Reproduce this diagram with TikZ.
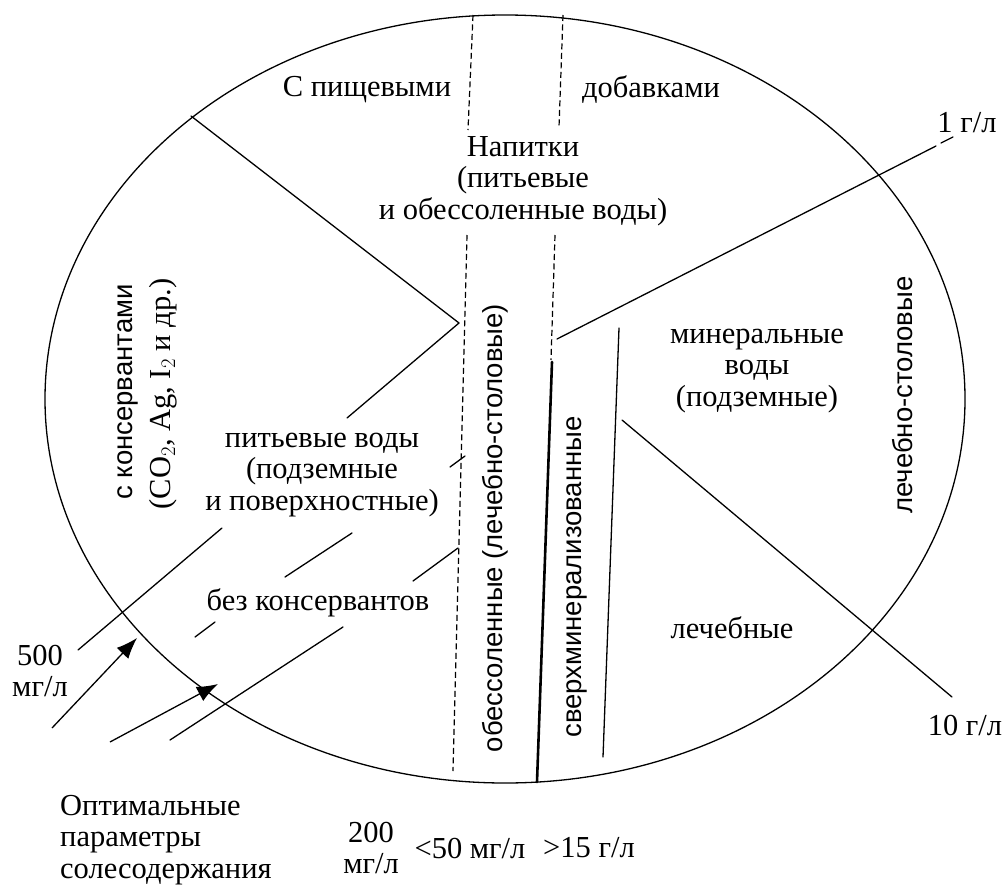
\documentclass[tikz,border=0pt]{standalone}
\usepackage{fontspec}
\setmainfont{Liberation Serif}
\newfontfamily\sansf{Liberation Sans}
\usetikzlibrary{arrows.meta}
\tikzset{
  ln/.style={line width=1.3pt, line cap=round},
  dsh/.style={line width=1.2pt, dash pattern=on 6pt off 3.5pt},
  thick line/.style={line width=2.6pt, line cap=round},
  arr/.style={line width=1.3pt, -{Latex[length=21pt,width=16pt]}},
  lbl/.style={font=\fontsize{30.5}{31.5}\selectfont, inner sep=0pt, align=center},
  slbl/.style={font=\sansf\fontsize{27.5}{30}\selectfont, inner sep=0pt, rotate=90},
}
\begin{document}
\begin{tikzpicture}[x=1pt,y=-1pt]
\useasboundingbox (0,0) rectangle (1006,886);
% ellipse
\draw[ln] (505,399) ellipse [x radius=460, y radius=384];
% coordinates
\coordinate (apex) at (459,323);
\coordinate (ul) at (191,116);
\coordinate (a1) at (78,650); \coordinate (a2) at (222,528); \coordinate (a3) at (347,418);
\coordinate (b1) at (195,637); \coordinate (b2) at (215,622); \coordinate (b3) at (285,577); \coordinate (b4) at (352,533); \coordinate (b5) at (450,467); \coordinate (b6) at (465,456);
\coordinate (c1) at (170,740); \coordinate (c2) at (343,627); \coordinate (c3) at (413,581); \coordinate (c4) at (458,548);
\coordinate (ar1s) at (52,728); \coordinate (ar1e) at (137,638);
\coordinate (ar2s) at (110,742); \coordinate (ar2e) at (218,684);
\coordinate (d1t) at (473,15); \coordinate (d1b) at (468,130);
\coordinate (d2t) at (563,15); \coordinate (d2b) at (559,127);
\coordinate (d3t) at (467,235); \coordinate (d3b) at (453,771);
\coordinate (d4t) at (555,235); \coordinate (d4b) at (551,360);
\coordinate (t1) at (552,362); \coordinate (t2) at (537,782);
\coordinate (s1) at (619,328); \coordinate (s2) at (603,757);
\coordinate (g1a) at (557,339); \coordinate (g1b) at (936,146); \coordinate (g1c) at (941,143); \coordinate (g1d) at (953,137);
\coordinate (g10a) at (622,420); \coordinate (g10b) at (952,697);
% lines
\draw[ln] (ul) -- (apex);
\draw[ln] (a1) -- (a2) (a3) -- (apex);
\draw[ln] (b1) -- (b2) (b3) -- (b4) (b5) -- (b6);
\draw[ln] (c1) -- (c2) (c3) -- (c4);
\draw[arr] (ar1s) -- (ar1e);
\draw[arr] (ar2s) -- (ar2e);
\draw[dsh] (d1t) -- (d1b);
\draw[dsh] (d2t) -- (d2b);
\draw[dsh] (d3t) -- (d3b);
\draw[dsh] (d4t) -- (d4b);
\draw[thick line] (t1) -- (t2);
\draw[ln] (s1) -- (s2);
\draw[ln] (g1a) -- (g1b) (g1c) -- (g1d);
\draw[ln] (g10a) -- (g10b);
% labels
\node[lbl] (n1) at (367,90) {С пищевыми};
\node[lbl] (n2) at (651,90) {добавками};
\node[lbl] (n3) at (523,181) {Напитки\\(питьевые\\и обессоленные воды)};
\node[lbl] (n4) at (322,475) {питьевые воды\\(подземные\\и поверхностные)};
\node[lbl] (n5) at (318,603) {без консервантов};
\node[lbl] (n6) at (40,671) {500\\мг/л};
\node[lbl, align=left, anchor=west] (n7) at (60,840) {Оптимальные\\параметры\\солесодержания};
\node[lbl] (n8) at (371,848) {200\\мг/л};
\node[lbl] (n9) at (470,848) {<50 мг/л};
\node[lbl] (n10) at (589,848) {>15 г/л};
\node[slbl] (n11) at (128,392) {с консервантами};
\node[lbl, rotate=90] (n12) at (163,394) {(CO$_2$, Ag, I$_2$ и др.)};
\node[slbl] (n13) at (495,528) {обессоленные (лечебно-столовые)};
\node[slbl] (n14) at (577,577) {сверхминерализованные};
\node[slbl] (n15) at (903,395) {лечебно-столовые};
\node[lbl] (n16) at (757,371) {минеральные\\воды\\(подземные)};
\node[lbl] (n17) at (732,628) {лечебные};
\node[lbl] (n18) at (965,725) {10 г/л};
\node[lbl] (n19) at (967,123) {1 г/л};
\end{tikzpicture}
\end{document}
